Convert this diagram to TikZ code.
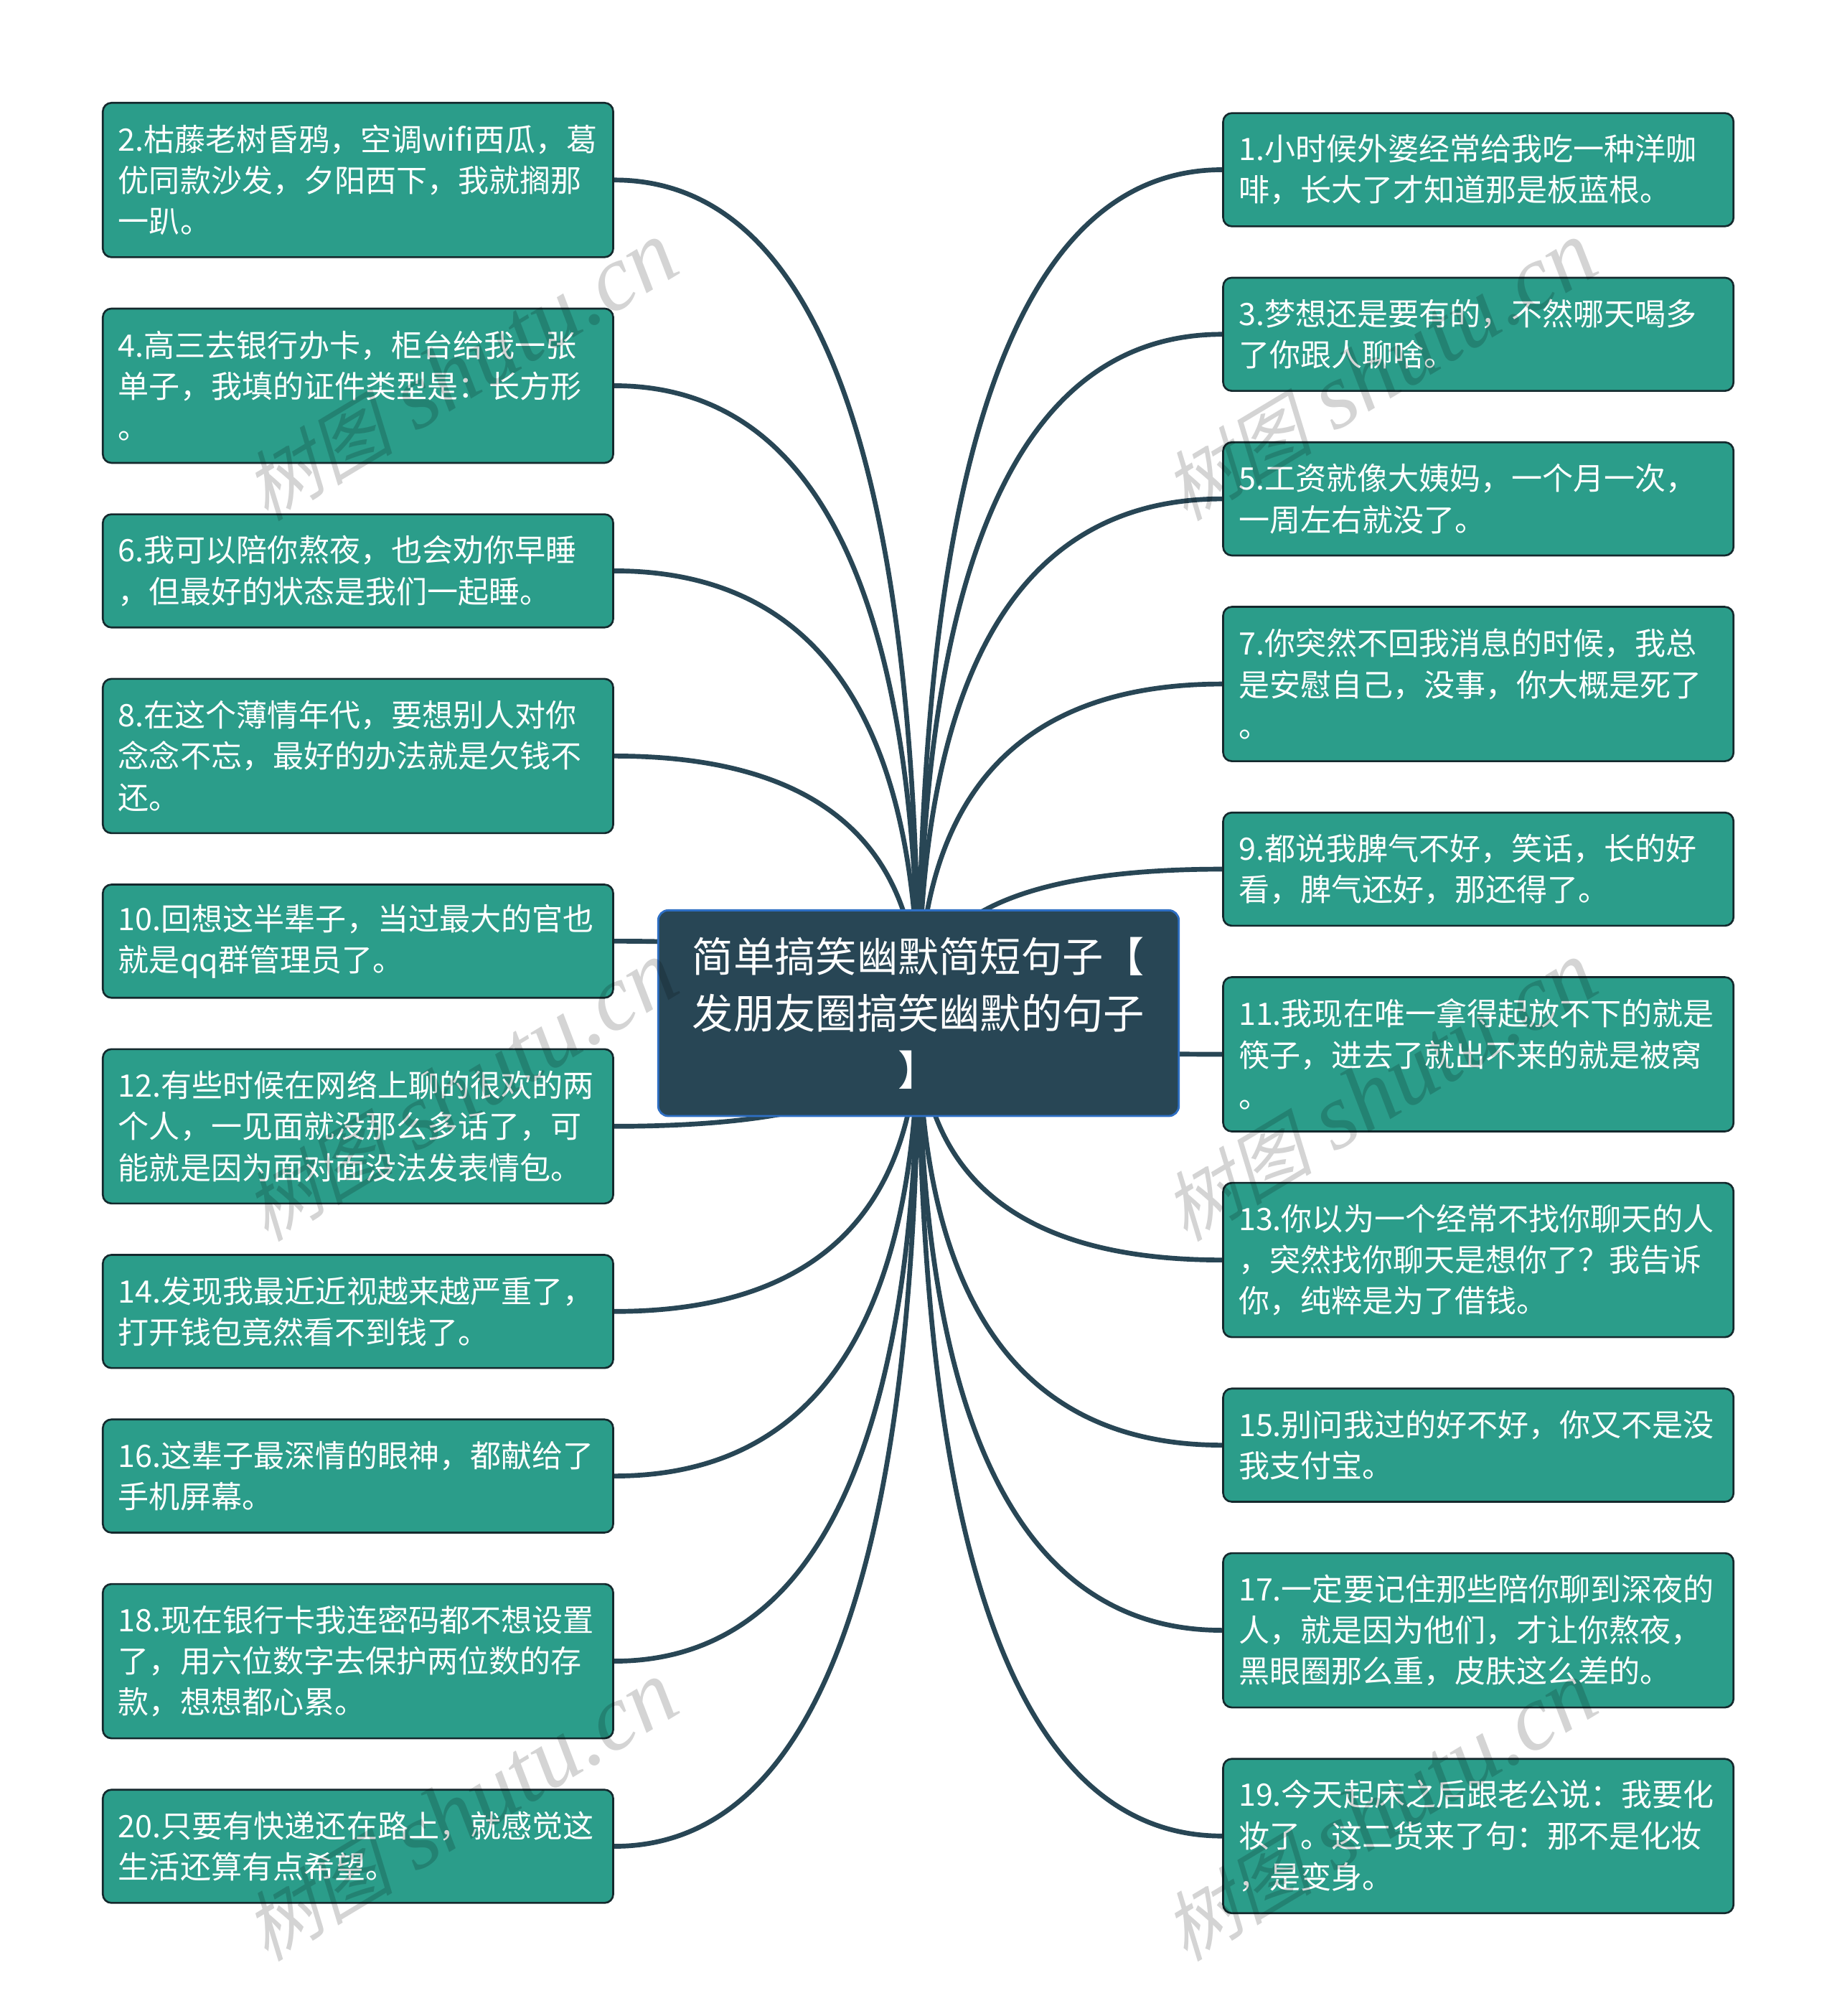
\documentclass[tikz,border=0pt]{standalone}
\usepackage{fontspec}
\setmainfont{Noto Sans CJK SC}
\newfontfamily\markcjk[FakeSlant=0.25]{Noto Sans CJK SC}
\newfontfamily\marklatin{Liberation Serif}
\usetikzlibrary{calc,backgrounds}
\definecolor{leafteal}{HTML}{2B9D8A}
\definecolor{rootslate}{HTML}{284655}
\definecolor{rootblue}{HTML}{2E6FC4}
\definecolor{leafedge}{HTML}{14292D}
\tikzset{
  leaf/.style={draw=leafedge,fill=leafteal,text=white,rounded corners=0.12cm,line width=0.75pt,
    minimum width=7.112cm,text width=6.68cm,inner xsep=0.216cm,inner ysep=0pt,align=left,
    font=\fontsize{12.25}{16.3}\selectfont},
  lowleaf/.style={leaf,minimum height=1.577cm},
  tallleaf/.style={leaf,minimum height=2.15cm},
  rootbox/.style={draw=rootblue,fill=rootslate,text=white,rounded corners=0.14cm,line width=0.8pt,
    minimum width=7.255cm,minimum height=2.866cm,text width=7cm,inner xsep=0.1cm,align=center,
    font=\fontsize{16.3}{22.4}\selectfont},
  branch/.style={draw=rootslate,line width=1.9pt},
  wmark/.style={text=black,opacity=0.17,rotate=31}
}
\newcommand{\wmtext}{{\fontsize{30}{30}\selectfont\markcjk 树图}\hspace{9pt}{\fontsize{37}{37}\selectfont\marklatin\itshape shutu.cn}}
\begin{document}
\begin{tikzpicture}[x=0.017915cm,y=-0.017915cm]
\useasboundingbox (0,0) rectangle (1429,1568);
\node[rootbox] (root) at (714.5,788) {简单搞笑幽默简短句子【\\发朋友圈搞笑幽默的句子\\】};
% left column
\node[tallleaf] (b2) at (278.5,140) {2.枯藤老树昏鸦，空调wifi西瓜，葛\\优同款沙发，夕阳西下，我就搁那\\一趴。};
\node[tallleaf] (b4) at (278.5,300) {4.高三去银行办卡，柜台给我一张\\单子，我填的证件类型是：长方形\\。};
\node[lowleaf] (b6) at (278.5,444) {6.我可以陪你熬夜，也会劝你早睡\\，但最好的状态是我们一起睡。};
\node[tallleaf] (b8) at (278.5,588) {8.在这个薄情年代，要想别人对你\\念念不忘，最好的办法就是欠钱不\\还。};
\node[lowleaf] (b10) at (278.5,732) {10.回想这半辈子，当过最大的官也\\就是qq群管理员了。};
\node[tallleaf] (b12) at (278.5,876) {12.有些时候在网络上聊的很欢的两\\个人，一见面就没那么多话了，可\\能就是因为面对面没法发表情包。};
\node[lowleaf] (b14) at (278.5,1020) {14.发现我最近近视越来越严重了，\\打开钱包竟然看不到钱了。};
\node[lowleaf] (b16) at (278.5,1148) {16.这辈子最深情的眼神，都献给了\\手机屏幕。};
\node[tallleaf] (b18) at (278.5,1292) {18.现在银行卡我连密码都不想设置\\了，用六位数字去保护两位数的存\\款，想想都心累。};
\node[lowleaf] (b20) at (278.5,1436) {20.只要有快递还在路上，就感觉这\\生活还算有点希望。};
% right column
\node[lowleaf] (b1) at (1150,132) {1.小时候外婆经常给我吃一种洋咖\\啡，长大了才知道那是板蓝根。};
\node[lowleaf] (b3) at (1150,260) {3.梦想还是要有的，不然哪天喝多\\了你跟人聊啥。};
\node[lowleaf] (b5) at (1150,388) {5.工资就像大姨妈，一个月一次，\\一周左右就没了。};
\node[tallleaf] (b7) at (1150,532) {7.你突然不回我消息的时候，我总\\是安慰自己，没事，你大概是死了\\。};
\node[lowleaf] (b9) at (1150,676) {9.都说我脾气不好，笑话，长的好\\看，脾气还好，那还得了。};
\node[tallleaf] (b11) at (1150,820) {11.我现在唯一拿得起放不下的就是\\筷子，进去了就出不来的就是被窝\\。};
\node[tallleaf] (b13) at (1150,980) {13.你以为一个经常不找你聊天的人\\，突然找你聊天是想你了？我告诉\\你，纯粹是为了借钱。};
\node[lowleaf] (b15) at (1150,1124) {15.别问我过的好不好，你又不是没\\我支付宝。};
\node[tallleaf] (b17) at (1150,1268) {17.一定要记住那些陪你聊到深夜的\\人，就是因为他们，才让你熬夜，\\黑眼圈那么重，皮肤这么差的。};
\node[tallleaf] (b19) at (1150,1428) {19.今天起床之后跟老公说：我要化\\妆了。这二货来了句：那不是化妆\\，是变身。};
% connectors
\begin{scope}[on background layer]
\fill[white] (0,0) rectangle (1429,1568);
\foreach \n in {2,4,...,20}
  \draw[branch] (root.center) .. controls ($(root.center)!2/3!(root.center |- b\n.east)$) and ($(b\n.east)!2/3!(root.center |- b\n.east)$) .. (b\n.east);
\foreach \n in {1,3,...,19}
  \draw[branch] (root.center) .. controls ($(root.center)!2/3!(root.center |- b\n.west)$) and ($(b\n.west)!2/3!(root.center |- b\n.west)$) .. (b\n.west);
\end{scope}
% watermarks
\node[wmark] (markA) at (358,289) {\wmtext};
\node[wmark] (markB) at (1073,289) {\wmtext};
\node[wmark] (markC) at (358,849) {\wmtext};
\node[wmark] (markD) at (1073,849) {\wmtext};
\node[wmark] (markE) at (358,1409) {\wmtext};
\node[wmark] (markF) at (1073,1409) {\wmtext};
\end{tikzpicture}
\end{document}
